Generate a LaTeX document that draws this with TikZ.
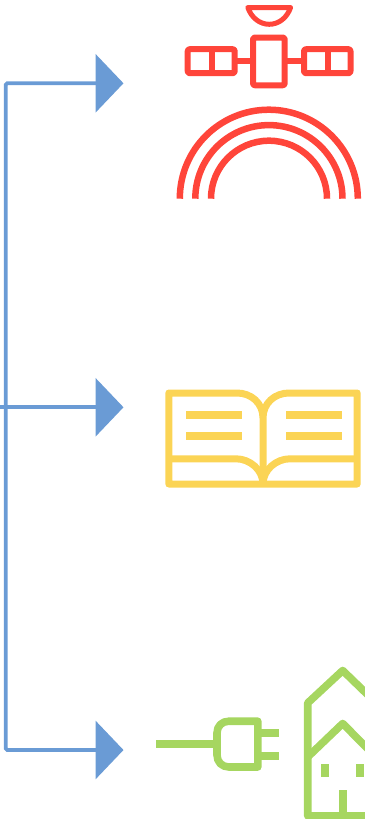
\documentclass[tikz,border=0pt]{standalone}
\usetikzlibrary{arrows.meta}
\definecolor{iconred}{HTML}{FF453A}
\definecolor{iconyellow}{HTML}{FBD455}
\definecolor{icongreen}{HTML}{A6D660}
\definecolor{linkblue}{HTML}{6A9BD5}
\tikzset{
  link/.style={draw=linkblue,line width=3.7pt,rounded corners=1.5pt,-{Triangle[length=28pt,width=58pt]}},
  plainlink/.style={draw=linkblue,line width=3.7pt},
  redicon/.style={draw=iconred,line width=6pt,line cap=butt,line join=round},
  yellowicon/.style={draw=iconyellow,line width=7pt,line cap=butt,line join=round},
  yellowbar/.style={draw=iconyellow,line width=8pt},
  greenicon/.style={draw=icongreen,line width=7.6pt,line cap=butt,line join=round},
  greenfill/.style={fill=icongreen,draw=none}
}
\begin{document}
\begin{tikzpicture}[x=1pt,y=-1pt]
\useasboundingbox (0,0) rectangle (364,819);
% connectors
\coordinate (input) at (0,407.3);
\coordinate (bus) at (5.7,407.3);
\coordinate (topend) at (123.5,83.3);
\coordinate (midend) at (123.5,407.3);
\coordinate (lowend) at (123.5,750);
\draw[plainlink] (input) -- (bus);
\draw[link] (bus) |- (topend);
\draw[link,rounded corners=0pt] (bus) -- (midend);
\draw[link] (bus) |- (lowend);
% satellite
\draw[redicon,line width=5pt] (247.8,7.5) -- (290.6,7.5) .. controls (287,18) and (278.5,24.3) .. (269.2,24.3) .. controls (260,24.3) and (251.5,18) .. (247.8,7.5) -- cycle;
\draw[redicon,rounded corners=2pt] (253,37.5) rectangle (284.7,85.3);
\draw[redicon,rounded corners=2pt] (187.7,49.2) rectangle (234.7,73.2);
\draw[redicon,rounded corners=2pt] (304,49.2) rectangle (350.5,73.2);
\draw[redicon] (211.7,49.2) -- (211.7,73.2);
\draw[redicon] (327.7,49.2) -- (327.7,73.2);
\draw[redicon] (234.7,61.3) -- (253,61.3);
\draw[redicon] (284.7,61.3) -- (304,61.3);
% arches
\draw[redicon,line width=6.5pt] (179.8,198.7) arc[start angle=180,end angle=0,radius=89pt];
\draw[redicon,line width=6.5pt] (195.3,198.7) arc[start angle=180,end angle=0,radius=73.6pt];
\draw[redicon,line width=6.5pt] (211,198.7) arc[start angle=180,end angle=0,radius=58pt];
% book
\draw[yellowicon] (263,418) .. controls (263,403) and (251,393) .. (237,393) -- (168.8,393) -- (168.8,484) -- (357.2,484) -- (357.2,393) -- (289,393) .. controls (275,393) and (263,403) .. (263,418) -- (263,484);
\draw[yellowicon] (168.8,458.8) -- (236,458.8) .. controls (250,458.8) and (263,470) .. (263,484);
\draw[yellowicon] (357.2,458.8) -- (290,458.8) .. controls (276,458.8) and (263,470) .. (263,484);
\draw[yellowbar] (186,414.7) -- (242,414.7);
\draw[yellowbar] (186,435.8) -- (242,435.8);
\draw[yellowbar] (286,414.7) -- (342,414.7);
\draw[yellowbar] (286,435.8) -- (342,435.8);
% plug
\draw[greenicon] (156,744) -- (217,744);
\draw[greenicon] (257.8,721.2) -- (229,721.2) .. controls (222,721.2) and (217,726) .. (217,733) -- (217,755) .. controls (217,762) and (222,767) .. (229,767) -- (257.8,767) -- cycle;
\draw[greenicon] (257.8,733) -- (279,733);
\draw[greenicon] (257.8,756) -- (279,756);
% houses
\draw[greenicon] (368,695) -- (342.7,670.5) -- (307.7,703) -- (307.7,815.8) -- (368,815.8);
\draw[greenicon] (368,749) -- (342.7,723.5) -- (307.7,757);
\draw[greenfill] (321,764) rectangle (329,777);
\draw[greenfill] (356,764) rectangle (364,777);
\draw[greenfill] (339,790) rectangle (347,815);
\end{tikzpicture}
\end{document}
